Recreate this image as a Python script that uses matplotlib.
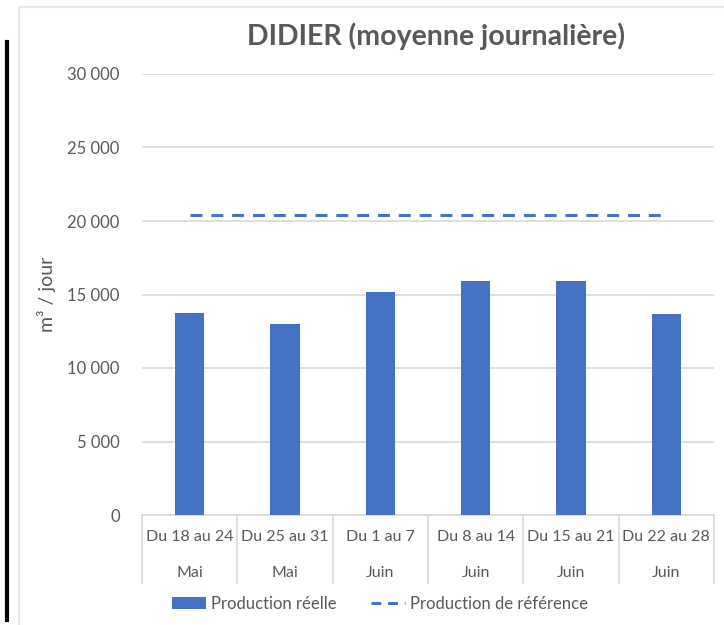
import matplotlib
matplotlib.use('Agg')
import matplotlib.pyplot as plt
from matplotlib.patches import Patch
from matplotlib.lines import Line2D
import matplotlib.transforms as mtransforms
import numpy as np

plt.rcParams['font.family'] = ['Lato', 'DejaVu Sans']
plt.rcParams['lines.scale_dashes'] = False

weeks = ['Du 18 au 24', 'Du 25 au 31', 'Du 1 au 7', 'Du 8 au 14', 'Du 15 au 21', 'Du 22 au 28']
months = ['Mai', 'Mai', 'Juin', 'Juin', 'Juin', 'Juin']
prod_reelle = [13750, 13000, 15150, 15900, 15900, 13700]
prod_reference = [20400, 20400, 20400, 20400, 20400, 20400]

blue = '#4472C4'
grey_txt = '#595959'
grid_col = '#D9D9D9'

W, H = 724, 625
fig = plt.figure(figsize=(W / 100, H / 100), dpi=100)
ax = fig.add_axes([142 / W, 1 - 515 / H, (714 - 142) / W, (515 - 74) / H])

x = np.arange(len(weeks))
ax.bar(x, prod_reelle, width=0.31, color=blue, zorder=3)
ax.plot(x, prod_reference, color=blue, lw=2.2, linestyle=(0, (8.6, 6.4)), zorder=4)

ax.set_xlim(-0.5, len(weeks) - 0.5)
ax.set_ylim(0, 30000)
ax.set_yticks(np.arange(0, 30001, 5000))
ax.set_yticklabels([f'{v:,}'.replace(',', ' ') for v in range(0, 30001, 5000)])
ax.yaxis.grid(True, color=grid_col, lw=1.2, zorder=0)
ax.tick_params(axis='y', length=0, pad=16, labelsize=12, labelcolor=grey_txt)
ax.set_xticks([])
for s in ['top', 'right', 'left']:
    ax.spines[s].set_visible(False)
ax.spines['bottom'].set_color(grid_col)
ax.spines['bottom'].set_linewidth(1.2)
ax.set_ylabel('m³ / jour', fontsize=14, color=grey_txt, labelpad=8)

# two-level category labels
trans = mtransforms.blended_transform_factory(ax.transData, ax.transAxes)
px = 1.0 / (515 - 74)
for i, (w, m) in enumerate(zip(weeks, months)):
    ax.text(i, -22 * px, w, transform=trans, ha='center', va='center',
            fontsize=11.5, color=grey_txt)
    ax.text(i, -58 * px, m, transform=trans, ha='center', va='center',
            fontsize=11.5, color=grey_txt)
for b in np.arange(len(weeks) + 1) - 0.5:
    ax.plot([b, b], [0, -68 * px], transform=trans, color=grid_col, lw=1.2, clip_on=False)

fig.text(436 / W, 1 - 36 / H, 'DIDIER (moyenne journalière)', ha='center', va='center',
         fontsize=20.5, fontweight='bold', color=grey_txt)

handles = [Patch(facecolor=blue, edgecolor='none'),
           Line2D([0], [0], color=blue, lw=2.2, linestyle=(0, (7, 5)))]
fig.legend(handles, ['Production réelle', 'Production de référence'], loc='center',
           bbox_to_anchor=(380 / W, 1 - 604 / H), ncol=2, frameon=False, fontsize=12,
           labelcolor=grey_txt, handlelength=2.0, handletextpad=0.3, columnspacing=2.1)

# chart frame (top + left only) and black edge from the screenshot
fig.add_artist(Line2D([19 / W, 1.0], [1 - 7 / H, 1 - 7 / H], transform=fig.transFigure,
                      color='#E6E6E6', lw=1.5))
fig.add_artist(Line2D([19 / W, 19 / W], [1 - 7 / H, 0.0], transform=fig.transFigure,
                      color='#E6E6E6', lw=1.5))
fig.add_artist(Line2D([7 / W, 7 / W], [1 - 42 / H, 1 - 620 / H], transform=fig.transFigure,
                      color='black', lw=3))

fig.savefig('out.png', dpi=100)
